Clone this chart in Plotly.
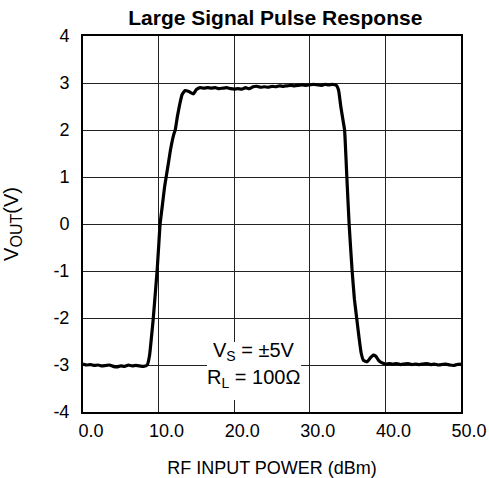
import plotly.graph_objects as go

# Trace data
x_vals = [0.0, 0.5, 1.0, 1.5, 2.0, 2.5, 3.0, 3.5, 4.0, 4.5, 5.0, 5.5, 6.0, 6.5, 7.0, 7.5, 8.0,
          8.5, 8.8, 9.0, 9.3, 9.6, 9.8, 10.0, 10.2, 10.5, 10.8, 11.0, 11.3, 11.6, 12.0, 12.2,
          12.5, 12.8, 13.1, 13.5, 14.0, 14.6, 15.0, 15.5, 16.0, 16.5, 17.0, 17.5, 18.0, 18.5,
          19.0, 19.5, 20.0, 20.5, 21.0, 21.5, 22.0, 22.5, 23.0, 23.5, 24.0, 24.5, 25.0, 25.5,
          26.0, 26.5, 27.0, 27.5, 28.0, 28.5, 29.0, 29.5, 30.0, 30.5, 31.0, 31.5, 32.0, 32.5,
          33.0, 33.5, 33.8, 34.1, 34.4, 34.6, 34.9, 35.2, 35.6, 35.9, 36.2, 36.5, 36.8, 37.1,
          37.6, 38.0, 38.4, 38.7, 39.1, 39.5, 40.0, 40.5, 41.0, 41.5, 42.0, 42.5, 43.0, 43.5,
          44.0, 44.5, 45.0, 45.5, 46.0, 46.5, 47.0, 47.5, 48.0, 48.5, 49.0, 49.5, 50.0]
v_out = [-2.98, -3.0, -2.99, -3.01, -3.0, -3.02, -3.01, -3.0, -3.03, -3.04, -3.02, -3.03, -3.0,
         -3.02, -3.01, -3.02, -3.03,
         -3.0, -2.8, -2.5, -2.0, -1.4, -1.0, -0.5, 0.0, 0.4, 0.8, 1.0, 1.3, 1.6, 1.9, 2.0,
         2.3, 2.55, 2.75, 2.84, 2.82, 2.77, 2.86, 2.9, 2.89, 2.9, 2.89, 2.9, 2.88, 2.89,
         2.9, 2.88, 2.87, 2.88, 2.87, 2.9, 2.88, 2.92, 2.93, 2.91, 2.92, 2.91, 2.93, 2.92,
         2.94, 2.93, 2.94, 2.95, 2.94, 2.95, 2.96, 2.95, 2.96, 2.97, 2.96, 2.95, 2.97, 2.96,
         2.97, 2.95, 2.85, 2.5, 2.2, 2.0, 1.0, 0.0, -1.0, -1.6, -2.0, -2.4, -2.75, -2.9,
         -2.93, -2.85, -2.79, -2.81, -2.9, -2.95, -2.98, -2.97, -2.98, -2.97, -2.99, -2.98, -2.97, -2.99,
         -2.98, -2.99, -2.98, -2.97, -2.99, -2.98, -3.0, -2.99, -2.98, -3.0, -3.01, -2.99, -2.98]

x_tickvals = [0, 10, 20, 30, 40, 50]
x_ticktext = ["0.0", "10.0", "20.0", "30.0", "40.0", "50.0"]
y_tickvals = [-4, -3, -2, -1, 0, 1, 2, 3, 4]
y_ticktext = ["-4", "-3", "-2", "-1", "0", "1", "2", "3", "4"]

FONT = "Liberation Sans, Arial, sans-serif"

fig = go.Figure()
fig.add_trace(go.Scatter(x=x_vals, y=v_out, mode="lines",
                         line=dict(color="black", width=3.2, shape="spline", smoothing=0.4),
                         showlegend=False, hoverinfo="skip"))

fig.add_shape(type="rect", xref="paper", yref="paper", x0=0.328, x1=0.577, y0=0.032, y1=0.186,
              fillcolor="white", line=dict(width=0), layer="above")
fig.add_annotation(xref="paper", yref="paper", x=0.452, y=0.122, text="V<sub>S</sub> = ±5V",
                   showarrow=False, font=dict(family=FONT, size=20, color="black"))
fig.add_annotation(xref="paper", yref="paper", x=0.452, y=0.051, text="R<sub>L</sub> = 100Ω",
                   showarrow=False, font=dict(family=FONT, size=20, color="black"))

fig.update_layout(
    width=489, height=478,
    margin=dict(l=83, r=28, t=36, b=66, autoexpand=False),
    paper_bgcolor="white", plot_bgcolor="white",
    font=dict(family=FONT, color="black"),
    title=dict(text="<b>Large Signal Pulse Response</b>", x=0.563, xanchor="center",
               y=0.963, yanchor="middle", font=dict(family=FONT, size=21, color="black")),
    xaxis=dict(range=[0, 50], tickvals=x_tickvals, ticktext=x_ticktext, automargin=False,
               showgrid=True, gridcolor="#222", gridwidth=1.3, zeroline=False,
               showline=True, linecolor="black", linewidth=2, mirror=True,
               ticks="", ticklabelstandoff=1, ticklabelshift=8,
               tickfont=dict(family=FONT, size=18, color="black"),
               title=dict(text="RF INPUT POWER (dBm)", standoff=22,
                          font=dict(family=FONT, size=18, color="black"))),
    yaxis=dict(range=[-4, 4], tickvals=y_tickvals, ticktext=y_ticktext, automargin=False,
               showgrid=True, gridcolor="#222", gridwidth=1.3, zeroline=False,
               showline=True, linecolor="black", linewidth=2, mirror=True,
               ticks="", ticklabelstandoff=8,
               tickfont=dict(family=FONT, size=18, color="black"),
               title=dict(text="V<sub><span style='font-size:16px'>OUT</span></sub>(V)", standoff=35,
                          font=dict(family=FONT, size=20, color="black"))),
)

fig.write_html("out.html", config={"displayModeBar": False},
               post_script="document.body.style.margin='0';document.body.style.overflow='hidden';")
